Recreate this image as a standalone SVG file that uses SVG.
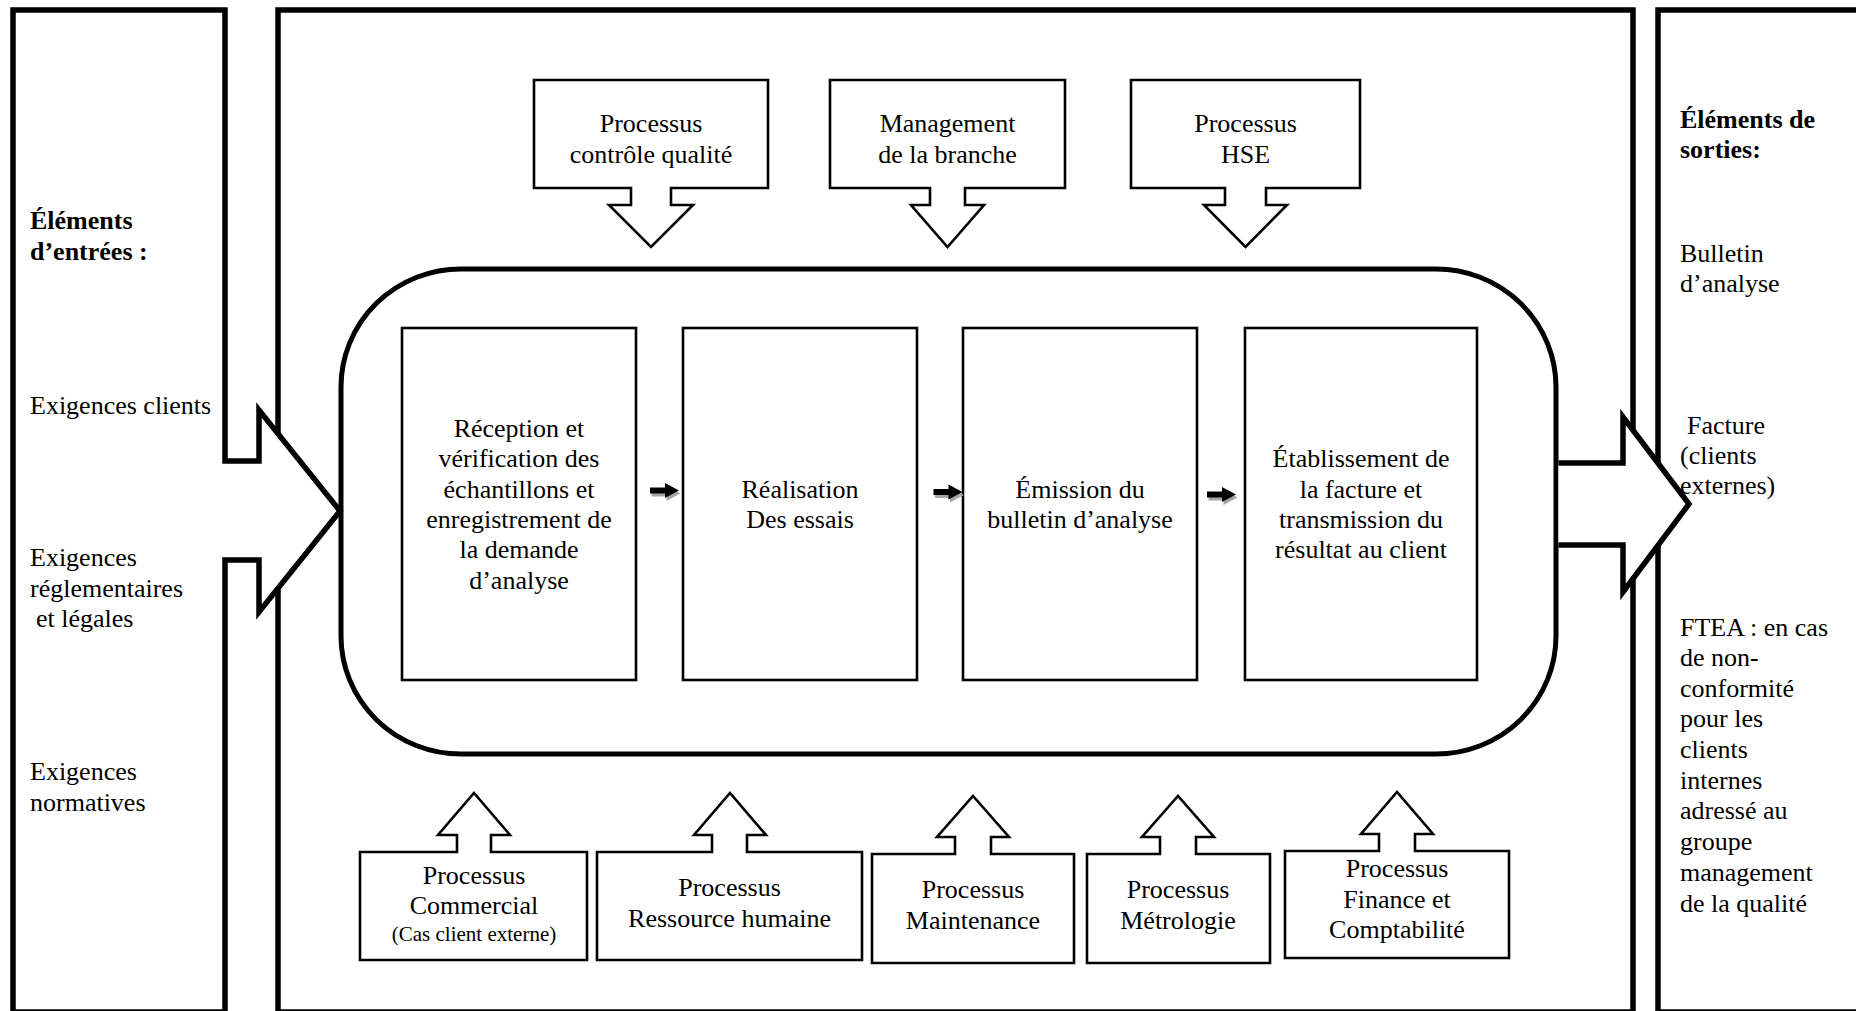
<svg xmlns="http://www.w3.org/2000/svg" width="1856" height="1011" viewBox="0 0 1856 1011">
  <style>
    .frame { fill: #fff; stroke: #000; stroke-width: 5.5; stroke-linejoin: miter; }
    .thin { fill: #fff; stroke: #000; stroke-width: 2.6; stroke-linejoin: miter; }
    .big { fill: #fff; stroke: #000; stroke-width: 5; stroke-linejoin: miter; }
    text { font-family: "Liberation Serif", "Times New Roman", serif; font-size: 26px; fill: #000; }
    .c { text-anchor: middle; }
    .b { font-weight: bold; }
    .small { font-size: 21px; }
  </style>
  <defs>
    <path id="step-arrow" d="M0,-3 H15 V-7.5 L29,0 L15,7.5 V3 H0 Z"/>
  </defs>

  <rect width="1856" height="1011" fill="#fff"/>

  <!-- central process frame and outputs column -->
  <g id="process-frame">
    <rect class="frame" x="278" y="10" width="1355" height="1002"/>
  </g>
  <g id="outputs">
    <rect class="frame" x="1658" y="10" width="260" height="1002"/>
    <text class="b" x="1680" y="128">Éléments de</text>
    <text class="b" x="1680" y="158">sorties:</text>
    <text x="1680" y="262">Bulletin</text>
    <text x="1680" y="292">d’analyse</text>
    <text x="1687" y="434">Facture</text>
    <text x="1680" y="464">(clients</text>
    <text x="1680" y="494">externes)</text>
    <text x="1680" y="636">FTEA : en cas</text>
    <text x="1680" y="666">de non-</text>
    <text x="1680" y="697">conformité</text>
    <text x="1680" y="727">pour les</text>
    <text x="1680" y="758">clients</text>
    <text x="1680" y="789">internes</text>
    <text x="1680" y="819">adressé au</text>
    <text x="1680" y="850">groupe</text>
    <text x="1680" y="881">management</text>
    <text x="1680" y="912">de la qualité</text>
  </g>

  <!-- main process loop -->
  <g id="process-loop">
    <rect class="big" x="341" y="269" width="1215" height="485" rx="120" ry="118"/>
  </g>

  <!-- process steps -->
  <g id="step-reception">
    <rect class="thin" x="402" y="328" width="234" height="352"/>
    <text class="c" x="519" y="437">Réception et</text>
    <text class="c" x="519" y="467">vérification des</text>
    <text class="c" x="519" y="498">échantillons et</text>
    <text class="c" x="519" y="528">enregistrement de</text>
    <text class="c" x="519" y="558">la demande</text>
    <text class="c" x="519" y="589">d’analyse</text>
  </g>
  <g id="step-essais">
    <rect class="thin" x="683" y="328" width="234" height="352"/>
    <text class="c" x="800" y="498">Réalisation</text>
    <text class="c" x="800" y="528">Des essais</text>
  </g>
  <g id="step-bulletin">
    <rect class="thin" x="963" y="328" width="234" height="352"/>
    <text class="c" x="1080" y="498">Émission du</text>
    <text class="c" x="1080" y="528">bulletin d’analyse</text>
  </g>
  <g id="step-facture">
    <rect class="thin" x="1245" y="328" width="232" height="352"/>
    <text class="c" x="1361" y="467">Établissement de</text>
    <text class="c" x="1361" y="498">la facture et</text>
    <text class="c" x="1361" y="528">transmission du</text>
    <text class="c" x="1361" y="558">résultat au client</text>
  </g>

  <!-- steering processes (top) -->
  <g id="ctrl-qualite">
    <path class="thin" d="M534,80 H768 V188 H671 V205 H693 L651,247 L609,205 H631 V188 H534 Z"/>
    <text class="c" x="651" y="132">Processus</text>
    <text class="c" x="651" y="163">contrôle qualité</text>
  </g>
  <g id="management-branche">
    <path class="thin" d="M830,80 H1065 V188 H965 V205 H984 L947.5,247 L911,205 H930 V188 H830 Z"/>
    <text class="c" x="947.5" y="132">Management</text>
    <text class="c" x="947.5" y="163">de la branche</text>
  </g>
  <g id="hse">
    <path class="thin" d="M1131,80 H1360 V188 H1266 V205 H1287 L1245.5,247 L1204,205 H1225 V188 H1131 Z"/>
    <text class="c" x="1245.5" y="132">Processus</text>
    <text class="c" x="1245.5" y="163">HSE</text>
  </g>

  <!-- support processes (bottom) -->
  <g id="commercial">
    <path class="thin" d="M360,960 V852 H457 V835 H438 L474,793 L510,835 H491 V852 H587 V960 Z"/>
    <text class="c" x="474" y="884">Processus</text>
    <text class="c" x="474" y="914">Commercial</text>
    <text class="c small" x="474" y="941">(Cas client externe)</text>
  </g>
  <g id="ressource-humaine">
    <path class="thin" d="M597,960 V852 H712 V835 H694 L730,793 L766,835 H747 V852 H862 V960 Z"/>
    <text class="c" x="729.5" y="896">Processus</text>
    <text class="c" x="729.5" y="927">Ressource humaine</text>
  </g>
  <g id="maintenance">
    <path class="thin" d="M872,963 V854 H955 V837 H937 L973,796 L1009,837 H991 V854 H1074 V963 Z"/>
    <text class="c" x="973" y="898">Processus</text>
    <text class="c" x="973" y="929">Maintenance</text>
  </g>
  <g id="metrologie">
    <path class="thin" d="M1087,963 V854 H1160 V837 H1142 L1178,796 L1214,837 H1196 V854 H1270 V963 Z"/>
    <text class="c" x="1178" y="898">Processus</text>
    <text class="c" x="1178" y="929">Métrologie</text>
  </g>
  <g id="finance">
    <path class="thin" d="M1285,958 V851 H1379 V834 H1361 L1397,792 L1433,834 H1415 V851 H1509 V958 Z"/>
    <text class="c" x="1397" y="877">Processus</text>
    <text class="c" x="1397" y="908">Finance et</text>
    <text class="c" x="1397" y="938">Comptabilité</text>
  </g>

  <!-- inputs column joined with the entry arrow -->
  <g id="inputs">
    <path class="frame" d="M225,560 H259 V612 L340,511 L259,410 V461 H225 V10 H13 V1012 H225 Z"/>
    <text class="b" x="30" y="229">Éléments</text>
    <text class="b" x="30" y="260">d’entrées :</text>
    <text x="30" y="414">Exigences clients</text>
    <text x="30" y="566">Exigences</text>
    <text x="30" y="597">réglementaires</text>
    <text x="36" y="627">et légales</text>
    <text x="30" y="780">Exigences</text>
    <text x="30" y="811">normatives</text>
  </g>

  <!-- connectors -->
  <g id="connectors">
    <path class="frame" d="M1558.5,463 H1623 V417 L1689,504 L1623,592 V545 H1558.5"/>
    <g fill="#a6a6a6">
      <use href="#step-arrow" transform="translate(651.5,493.5)"/>
      <use href="#step-arrow" transform="translate(935,495)"/>
      <use href="#step-arrow" transform="translate(1208.5,497.5)"/>
    </g>
    <g fill="#000">
      <use href="#step-arrow" transform="translate(650,490.5)"/>
      <use href="#step-arrow" transform="translate(933.5,492)"/>
      <use href="#step-arrow" transform="translate(1207,494.5)"/>
    </g>
  </g>
</svg>
